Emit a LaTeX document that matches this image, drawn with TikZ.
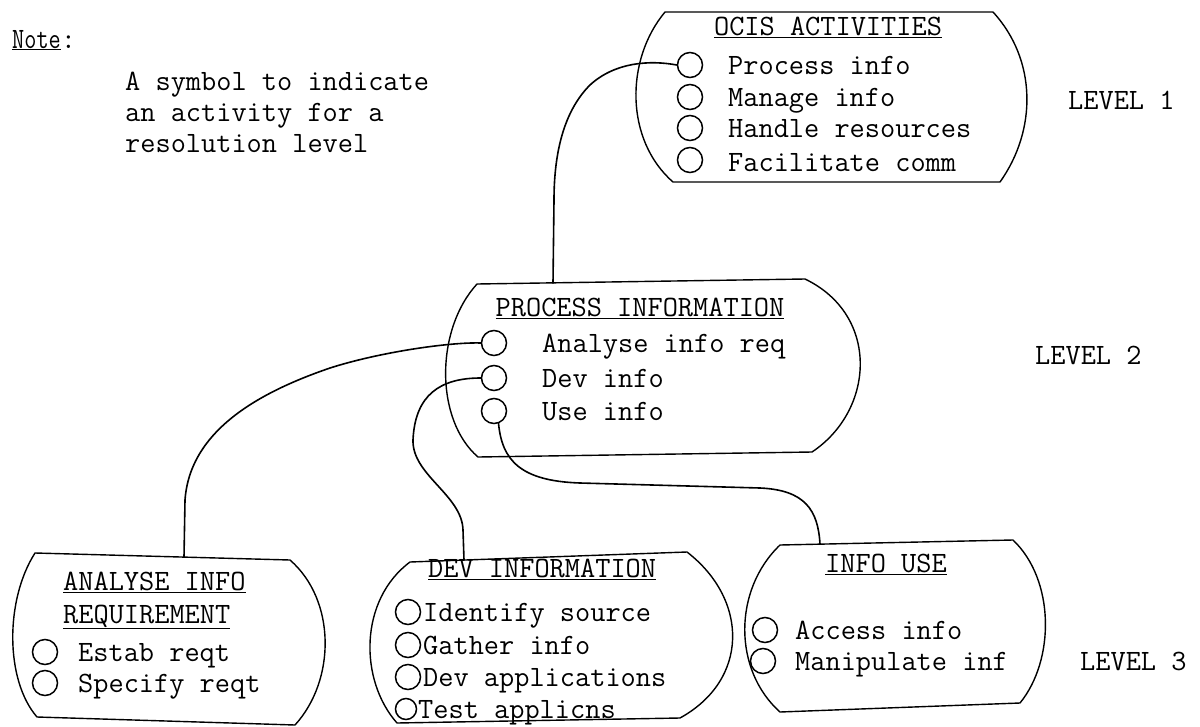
\documentclass[tikz,border=0pt]{standalone}
\usepackage{fontspec}
\usepackage{graphicx}
\newcommand\fs{\fontsize{29.5}{32}\selectfont\ttfamily}
\tikzset{
  lbl/.style={font=\fs, anchor=base west, inner sep=0pt},
  ttl/.style={font=\fs, anchor=base west, inner sep=0pt},
  dot/.style={circle, draw, minimum size=25pt, inner sep=0pt, line width=1.5pt},
  tag/.style={draw, line width=1.4pt, line join=round},
  link/.style={line width=1.6pt, line cap=round},
}
\begin{document}
\begin{tikzpicture}[x=1pt,y=-1pt]
\useasboundingbox (0,0) rectangle (1200,726);
% note
\node[lbl] (note) at (12,48) {\scalebox{0.8}[1]{\underline{Note}}:};
\node[lbl] (n1) at (125,90) {A symbol to indicate};
\node[lbl] (n2) at (125,121) {an activity for a};
\node[lbl] (n3) at (125,152) {resolution level};
% levels
\node[lbl] (lv1) at (1068,109) {LEVEL 1};
\node[lbl] (lv2) at (1035,364) {LEVEL 2};
\node[lbl] (lv3) at (1080,670) {LEVEL 3};
% box 1
\coordinate (a1) at (665,12); \coordinate (a2) at (993,12);
\coordinate (a3) at (1000,182); \coordinate (a4) at (673,182);
\draw[tag] (a1) -- (a2) .. controls (1037,60) and (1037,130) .. (a3) -- (a4) .. controls (625,140) and (625,60) .. (a1) -- cycle;
\node[ttl, anchor=base] (t1) at (828,35) {\underline{OCIS ACTIVITIES}};
\node[dot] (c1a) at (690,65) {};
\node[dot] (c1b) at (690,97) {};
\node[dot] (c1c) at (690,128) {};
\node[dot] (c1d) at (690,160) {};
\node[lbl] (i1a) at (728,74) {Process info};
\node[lbl] (i1b) at (728,106) {Manage info};
\node[lbl] (i1c) at (728,137) {Handle resources};
\node[lbl] (i1d) at (728,171) {Facilitate comm};
% box 2
\coordinate (b1) at (477,284); \coordinate (b2) at (805,279);
\coordinate (b3) at (812,452); \coordinate (b4) at (478,457);
\draw[tag] (b1) -- (b2) .. controls (880,315) and (875,410) .. (b3) -- (b4) .. controls (435,420) and (435,330) .. (b1) -- cycle;
\node[ttl, anchor=base] (t2) at (640,316) {\underline{PROCESS INFORMATION}};
\node[dot] (c2a) at (494,343) {};
\node[dot] (c2b) at (494,378) {};
\node[dot] (c2c) at (494,411) {};
\node[lbl] (i2a) at (542,352) {Analyse info req};
\node[lbl] (i2b) at (542,387) {Dev info};
\node[lbl] (i2c) at (542,420) {Use info};
% box 3
\coordinate (d1) at (35,553); \coordinate (d2) at (290,560);
\coordinate (d3) at (295,725); \coordinate (d4) at (37,717);
\draw[tag] (d1) -- (d2) .. controls (336,600) and (336,680) .. (d3) -- (d4) .. controls (5,680) and (5,600) .. (d1) -- cycle;
\node[ttl] (t3a) at (63,590) {\underline{ANALYSE INFO}};
\node[ttl] (t3b) at (63,623) {\underline{REQUIREMENT}};
\node[dot] (c3a) at (45,652) {};
\node[dot] (c3b) at (45,683) {};
\node[lbl] (i3a) at (78,661) {Estab reqt};
\node[lbl] (i3b) at (78,692) {Specify reqt};
% box 4
\coordinate (f1) at (410,562); \coordinate (f2) at (687,552);
\coordinate (f3) at (680,718); \coordinate (f4) at (397,723);
\draw[tag] (f1) -- (f2) .. controls (749,600) and (749,680) .. (f3) -- (f4) .. controls (359,680) and (359,600) .. (f1) -- cycle;
\node[ttl] (t4) at (428,577) {\underline{DEV INFORMATION}};
\node[dot] (c4a) at (408,612) {};
\node[dot] (c4b) at (408,645) {};
\node[dot] (c4c) at (408,677) {};
\node[dot, minimum size=21pt] (c4d) at (406,709) {};
\node[lbl] (i4a) at (423,621) {Identify source};
\node[lbl] (i4b) at (423,654) {Gather info};
\node[lbl] (i4c) at (423,686) {Dev applications};
\node[lbl] (i4d) at (418,718) {Test applicns};
% box 5
\coordinate (g1) at (780,545); \coordinate (g2) at (1013,540);
\coordinate (g3) at (1020,703); \coordinate (g4) at (780,712);
\draw[tag] (g1) -- (g2) .. controls (1055,580) and (1055,660) .. (g3) -- (g4) .. controls (733,670) and (733,590) .. (g1) -- cycle;
\node[ttl] (t5) at (825,572) {\underline{INFO USE}};
\node[dot] (c5a) at (765,630) {};
\node[dot] (c5b) at (763,661) {};
\node[lbl] (i5a) at (795,639) {Access info};
\node[lbl] (i5b) at (795,670) {Manipulate inf};
% connector ends
\coordinate (e1) at (553,283);
\coordinate (e2) at (184,557);
\coordinate (e3) at (464,560);
\coordinate (e4) at (820,544);
% connectors
\draw[link] (c1a.west) .. controls (650,60) and (615,62) .. (590,85) .. controls (565,110) and (554,150) .. (554,200) -- (e1);
\draw[link] (c2a.west) .. controls (450,342) and (380,352) .. (330,368) .. controls (260,392) and (190,430) .. (185,500) -- (e2);
\draw[link] (c2b.west) .. controls (440,378) and (415,395) .. (413,440) .. controls (412,475) and (462,495) .. (463,530) -- (e3);
\draw[link] (c2c.-70) .. controls (502,460) and (520,481) .. (580,483) -- (760,488) .. controls (805,490) and (818,510) .. (e4);
\end{tikzpicture}
\end{document}
